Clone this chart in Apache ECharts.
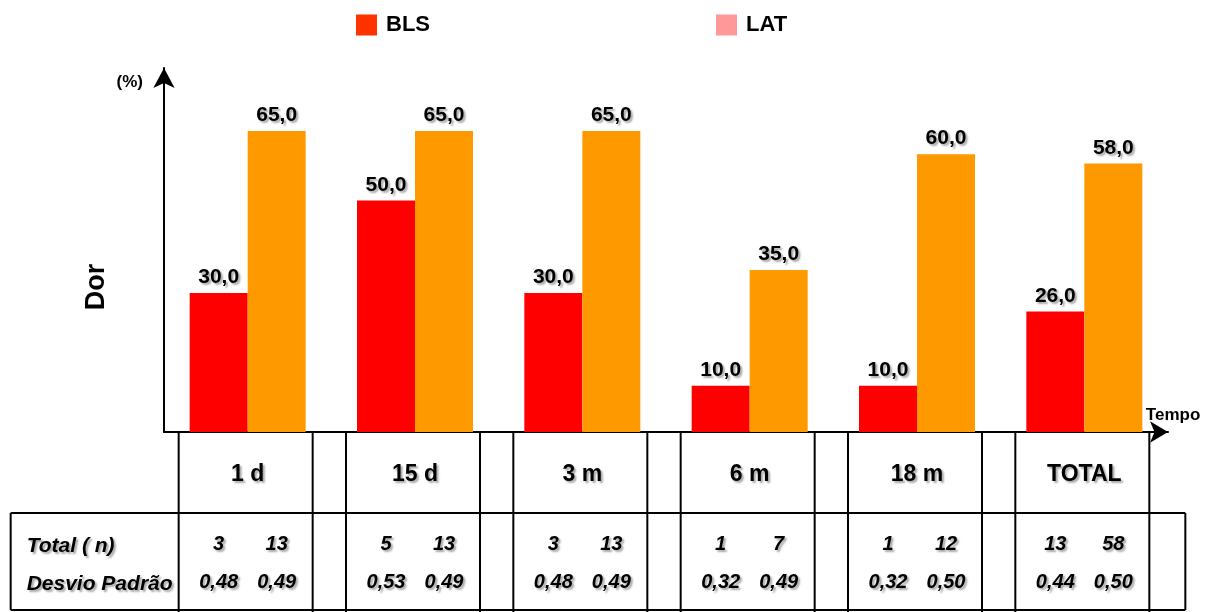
<!DOCTYPE html>
<html>
<head>
<meta charset="utf-8">
<script src="https://cdn.jsdelivr.net/npm/echarts@6/dist/echarts.min.js"></script>
<style>
  html, body { margin: 0; padding: 0; background: #fff; }
  #container { width: 1206px; height: 612px; }
</style>
</head>
<body>
<div id="container"></div>
<script>
var categories = ['1 d', '15 d', '3 m', '6 m', '18 m', 'TOTAL'];
var dorBLS = [30.0, 50.0, 30.0, 10.0, 10.0, 26.0];
var dorLAT = [65.0, 65.0, 65.0, 35.0, 60.0, 58.0];
var totalBLS = [3, 5, 3, 1, 1, 13];
var totalLAT = [13, 13, 13, 7, 12, 58];
var desvioBLS = [0.48, 0.53, 0.48, 0.32, 0.32, 0.44];
var desvioLAT = [0.49, 0.49, 0.49, 0.49, 0.50, 0.50];

var FONT = '"Liberation Sans", Arial, sans-serif';
var Y_MAX = 78.6;
var shadowText = {
    textShadowColor: 'rgba(0,0,0,0.35)',
    textShadowBlur: 2,
    textShadowOffsetX: 2,
    textShadowOffsetY: 2
};

function comma(v, d) {
    return v.toFixed(d).replace('.', ',');
}

function pairAxis(margin, left, right, digits) {
    return {
        type: 'category',
        data: categories,
        position: 'bottom',
        axisLine: { show: false },
        axisTick: { show: false },
        splitLine: { show: false },
        axisLabel: {
            interval: 0,
            margin: margin,
            formatter: function (value, idx) {
                var a = digits ? comma(left[idx], digits) : left[idx];
                var b = digits ? comma(right[idx], digits) : right[idx];
                return '{v|' + a + '}{v|' + b + '}';
            },
            rich: {
                v: Object.assign({
                    width: 58, align: 'center', fontFamily: FONT,
                    fontWeight: 'bold', fontStyle: 'italic', fontSize: 20, color: '#000'
                }, shadowText)
            }
        }
    };
}

var barLabel = Object.assign({
    show: true,
    position: 'top',
    distance: 5,
    fontFamily: FONT,
    fontWeight: 'bold',
    fontSize: 21,
    color: '#000',
    formatter: function (p) { return comma(p.value, 1); }
}, shadowText);

var myChart = echarts.init(document.getElementById('container'));

myChart.setOption({
    animation: false,
    backgroundColor: '#fff',
    legend: {
        left: 356,
        top: 14,
        padding: 0,
        itemWidth: 21,
        itemHeight: 21,
        itemGap: 286,
        icon: 'rect',
        textStyle: { fontFamily: FONT, fontWeight: 'bold', fontSize: 22, color: '#000', padding: [0, 0, 0, 4] },
        data: [
            { name: 'BLS', itemStyle: { color: '#FF3300' } },
            { name: 'LAT', itemStyle: { color: '#FF9999' } }
        ]
    },
    grid: { left: 164, right: 38, top: 68, bottom: 180, containLabel: false },
    xAxis: [
        {
            type: 'category',
            data: categories,
            axisLine: {
                show: true,
                symbol: ['none', 'arrow'],
                symbolSize: [16, 18],
                lineStyle: { color: '#000', width: 2 }
            },
            axisTick: { show: false },
            axisLabel: Object.assign({
                interval: 0,
                margin: 31,
                fontFamily: FONT,
                fontWeight: 'bold',
                fontSize: 23,
                color: '#000'
            }, shadowText)
        },
        pairAxis(102, totalBLS, totalLAT, 0),
        pairAxis(140, desvioBLS, desvioLAT, 2)
    ],
    yAxis: {
        type: 'value',
        min: 0,
        max: Y_MAX,
        axisLine: {
            show: true,
            symbol: ['none', 'arrow'],
            symbolSize: [16, 20],
            lineStyle: { color: '#000', width: 2 }
        },
        axisTick: { show: false },
        axisLabel: { show: false },
        splitLine: { show: false }
    },
    series: [
        {
            name: 'BLS',
            type: 'bar',
            data: dorBLS,
            barWidth: 58,
            barGap: '0%',
            itemStyle: { color: '#FF0000' },
            label: barLabel
        },
        {
            name: 'LAT',
            type: 'bar',
            data: dorLAT,
            barWidth: 58,
            barGap: '0%',
            itemStyle: { color: '#FF9900' },
            label: barLabel
        }
    ]
});

// table frame below the axis, aligned with the category bands
function buildTable() {
    var baseY = myChart.convertToPixel({ yAxisIndex: 0 }, 0);
    var topY = myChart.convertToPixel({ yAxisIndex: 0 }, Y_MAX);
    var rowY = baseY + 81;
    var bottomY = baseY + 178;
    var centers = categories.map(function (c) {
        return myChart.convertToPixel({ xAxisIndex: 0 }, c);
    });
    var band = centers[1] - centers[0];
    var axisX = centers[0] - band / 2;
    var left = centers[0] - 69 - 168;
    var right = centers[centers.length - 1] + 65 + 36;
    var stroke = { stroke: '#000', lineWidth: 2 };
    var els = [];

    function line(x1, y1, x2, y2) {
        els.push({ type: 'line', shape: { x1: x1, y1: y1, x2: x2, y2: y2 }, style: stroke, silent: true });
    }

    centers.forEach(function (c) {
        line(c - 69, baseY, c - 69, 612);
        line(c + 65, baseY, c + 65, 612);
    });
    line(left, rowY, right, rowY);
    line(left, bottomY, right, bottomY);
    line(left, rowY, left, bottomY);
    line(right, rowY, right, bottomY);

    var rowText = Object.assign({
        fontFamily: FONT, fontWeight: 'bold', fontStyle: 'italic', fontSize: 21,
        fill: '#000', verticalAlign: 'middle'
    }, shadowText);
    els.push({ type: 'text', x: left + 16, y: baseY + 114, style: Object.assign({ text: 'Total ( n)' }, rowText) });
    els.push({ type: 'text', x: left + 16, y: baseY + 152, style: Object.assign({ text: 'Desvio Padrão' }, rowText) });

    els.push({
        type: 'text', x: axisX - 21, y: topY + 14,
        style: { text: '(%)', fontFamily: FONT, fontWeight: 'bold', fontSize: 17, fill: '#000', align: 'right', verticalAlign: 'middle' }
    });
    els.push({
        type: 'text', x: 97, y: 287, rotation: Math.PI / 2,
        style: { text: 'Dor', fontFamily: FONT, fontWeight: 'bold', fontSize: 27, fill: '#000', align: 'center', verticalAlign: 'middle' }
    });
    els.push({
        type: 'text', x: right + 15, y: baseY - 17,
        style: { text: 'Tempo', fontFamily: FONT, fontWeight: 'bold', fontSize: 17, fill: '#000', align: 'right', verticalAlign: 'middle' }
    });

    myChart.setOption({ graphic: els });
}

buildTable();
</script>
</body>
</html>
